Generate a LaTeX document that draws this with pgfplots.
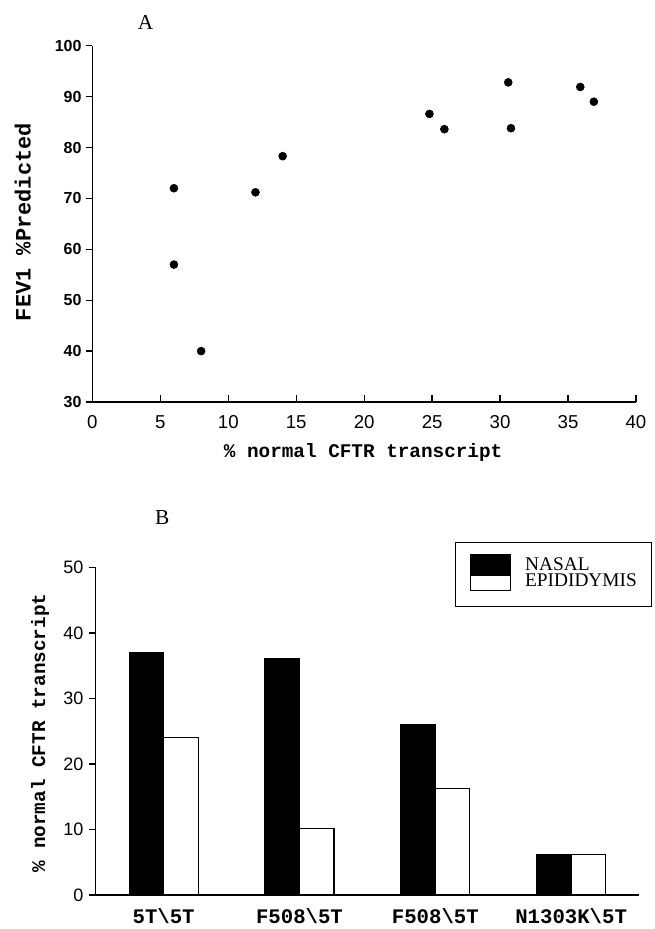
\documentclass[border=0pt]{standalone}
\usepackage{fontspec}
\setmainfont{Liberation Serif}
\setsansfont{Liberation Sans}
\setmonofont{Liberation Mono}
\usepackage{pgfplots}
\pgfplotsset{compat=1.18}

\begin{document}
\begin{tikzpicture}
% page frame: 655 x 929 px at 0.75pt per px
\path (0,0) rectangle (491.25pt,696.75pt);

% ---------------- panel A ----------------
\begin{axis}[
    at={(69.3pt,395.25pt)}, anchor=south west,
    scale only axis, width=407.7pt, height=267.2pt,
    xmin=0, xmax=40, ymin=30, ymax=100,
    axis lines=left, axis line style={-,line width=1pt},
    xtick={0,5,...,40}, ytick={30,40,...,100},
    xtick align=inside, ytick align=outside,
    major tick length=5pt, tick style={line width=1pt,black},
    /pgf/number format/assume math mode=true,
    xticklabel style={font=\sffamily\fontsize{14}{14}\selectfont,inner sep=0pt,yshift=-10pt},
    yticklabel style={font=\sffamily\bfseries\fontsize{12}{12}\selectfont,inner sep=0pt,xshift=-3pt},
    xlabel={\% normal CFTR transcript},
    ylabel={FEV1 \%Predicted},
    xlabel style={font=\ttfamily\bfseries\fontsize{14.5}{14.5}\selectfont,
                  at={(axis description cs:0.498,-0.142)},anchor=center},
    ylabel style={font=\ttfamily\bfseries\fontsize{16.5}{16.5}\selectfont,
                  at={(axis description cs:-0.128,0.505)},anchor=center},
    clip=false,
]
  \addplot[only marks,mark=*,mark size=3pt,mark options={fill=black,draw=black}] coordinates {
    (6,72.0) (6,57.0) (8,40.0) (12,71.2) (14,78.3) (24.8,86.6) (25.9,83.6)
    (30.6,92.8) (30.8,83.8) (35.9,91.9) (36.9,89.0)};
  \node[font=\fontsize{16}{16}\selectfont] at (axis description cs:0.098,1.066) {A};
\end{axis}

% ---------------- panel B ----------------
\begin{axis}[
    at={(71.8pt,25.5pt)}, anchor=south west,
    scale only axis, width=407.5pt, height=245.5pt,
    xmin=-0.5, xmax=3.5, ymin=0, ymax=50,
    axis lines=left, axis line style={-,line width=1pt},
    ybar=0pt, bar width=25.9pt,
    xtick={0,1,2,3},
    xticklabels={5T\textbackslash5T,F508\textbackslash5T,F508\textbackslash5T,N1303K\textbackslash5T},
    x tick style={draw=none},
    ytick={0,10,...,50}, ytick align=outside,
    major tick length=5pt, y tick style={line width=1pt,black},
    /pgf/number format/assume math mode=true,
    xticklabel style={font=\ttfamily\bfseries\fontsize{15.5}{15.5}\selectfont,inner sep=0pt,yshift=-5pt},
    yticklabel style={font=\sffamily\fontsize{13.5}{13.5}\selectfont,inner sep=0pt,xshift=-4pt},
    ylabel={\% normal CFTR transcript},
    ylabel style={font=\ttfamily\bfseries\fontsize{14.5}{14.5}\selectfont,
                  at={(axis description cs:-0.1025,0.495)},anchor=center},
    legend style={at={(0.661,1.0794)},anchor=north west,draw=black,line width=0.8pt,
                  font=\fontsize{14.5}{12}\selectfont,inner xsep=11pt,inner ysep=12pt,
                  row sep=0pt,column sep=10.5pt,
                  nodes={inner sep=0pt,text height=9pt,text depth=3pt,anchor=base west}},
    legend cell align=left,
    clip=false,
]
  \addplot[fill=black,draw=black,line width=0.8pt,
    legend image code/.code={\path (0pt,0pt) -- (30pt,0pt);
      \draw[overlay,fill=black,draw=black,line width=0.8pt] (0pt,-3.6pt) rectangle (30pt,11.4pt);}]
    coordinates {(0,37.0) (1,36.1) (2,26.1) (3,6.2)};
  \addplot[fill=white,draw=black,line width=0.8pt,
    legend image code/.code={\path (0pt,0pt) -- (30pt,0pt);
      \draw[overlay,fill=white,draw=black,line width=0.8pt] (0pt,-2.9pt) rectangle (30pt,8.4pt);}]
    coordinates {(0,24.0) (1,10.1) (2,16.2) (3,6.2)};
  \legend{NASAL,EPIDIDYMIS}
  \node[font=\fontsize{16}{16}\selectfont] at (axis description cs:0.1226,1.152) {B};
\end{axis}
\end{tikzpicture}
\end{document}
